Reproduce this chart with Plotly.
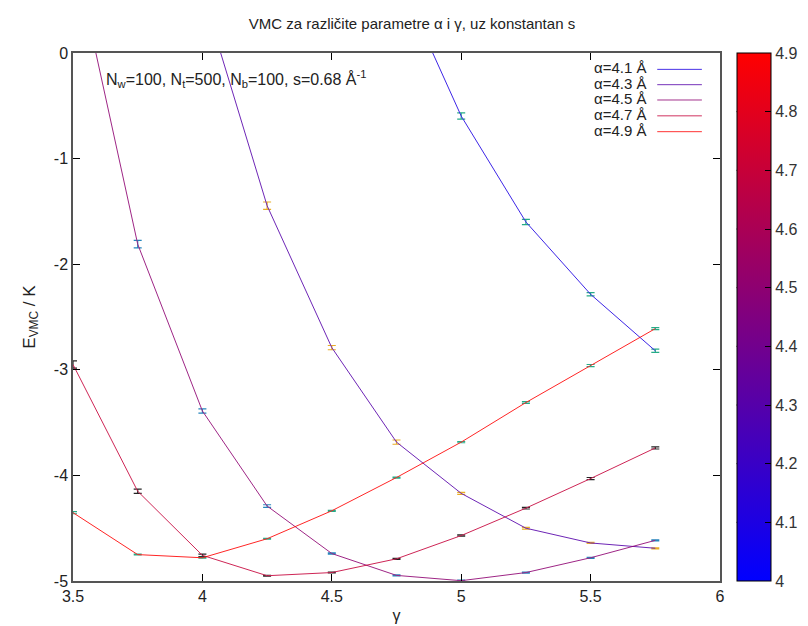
import plotly.graph_objects as go
from plotly.colors import sample_colorscale

# ---------------- data ----------------
gamma = [3.5, 3.75, 4.0, 4.25, 4.5, 4.75, 5.0, 5.25, 5.5, 5.75]
alphas = [4.1, 4.3, 4.5, 4.7, 4.9]

E_41 = [None, None, None, None, None, 0.76, -0.597, -1.60, -2.285, -2.82]
E_43 = [None, None, 0.57, -1.446, -2.79, -3.685, -4.17, -4.50, -4.64, -4.69]
E_45 = [0.99, -1.81, -3.39, -4.29, -4.74, -4.947, -4.997, -4.92, -4.78, -4.615]
E_47 = [-2.95, -4.15, -4.757, -4.95, -4.92, -4.79, -4.57, -4.31, -4.03, -3.74]
E_49 = [-4.353, -4.75, -4.78, -4.60, -4.335, -4.02, -3.685, -3.31, -2.96, -2.61]

err_41 = [0, 0, 0, 0, 0, 0.04, 0.03, 0.025, 0.015, 0.015]
err_43 = [0, 0, 0.04, 0.035, 0.02, 0.02, 0.01, 0.008, 0.005, 0.005]
err_45 = [0.04, 0.035, 0.02, 0.012, 0.006, 0.005, 0.005, 0.005, 0.005, 0.005]
err_47 = [0.035, 0.02, 0.012, 0.004, 0.004, 0.005, 0.006, 0.008, 0.01, 0.01]
err_49 = [0.01, 0.004, 0.004, 0.004, 0.005, 0.005, 0.006, 0.008, 0.01, 0.01]

energies = [E_41, E_43, E_45, E_47, E_49]
errors = [err_41, err_43, err_45, err_47, err_49]
errbar_colors = ["#009e73", "#e69f00", "#0072b2", "#000000", "#009e73"]

x_ticks = [3.5, 4.0, 4.5, 5.0, 5.5, 6.0]
x_ticktext = ["3.5", "4", "4.5", "5", "5.5", "6"]
y_ticks = [0, -1, -2, -3, -4, -5]
y_ticktext = ["0", "-1", "-2", "-3", "-4", "-5"]
cb_ticks = [4.0, 4.1, 4.2, 4.3, 4.4, 4.5, 4.6, 4.7, 4.8, 4.9]
cb_ticktext = ["4", "4.1", "4.2", "4.3", "4.4", "4.5", "4.6", "4.7", "4.8", "4.9"]
cmin, cmax = 4.0, 4.9

title_text = "VMC za različite parametre α i γ, uz konstantan s"
info_text = "N<sub>w</sub>=100, N<sub>t</sub>=500, N<sub>b</sub>=100, s=0.68 Å<sup>-1</sup>"

# ---------------- figure ----------------
colorscale = [[0, "rgb(0,0,255)"], [1, "rgb(255,0,0)"]]
FONT = "Liberation Sans, Arial, sans-serif"
NARROW = "Liberation Sans Narrow, Arial Narrow, Liberation Sans, sans-serif"

fig = go.Figure()
line_colors = []
for a, E, err, ec in zip(alphas, energies, errors, errbar_colors):
    col = sample_colorscale(colorscale, [(a - cmin) / (cmax - cmin)])[0]
    line_colors.append(col)
    fig.add_trace(go.Scatter(
        x=gamma, y=E, mode="lines",
        line=dict(color=col, width=1.0),
        opacity=0.85,
        error_y=dict(type="data", array=err, color=ec, thickness=1.2, width=4),
        showlegend=False, hoverinfo="skip",
    ))

# colorbar carrier
fig.add_trace(go.Scatter(
    x=[None], y=[None], mode="markers",
    marker=dict(color=[cmin], cmin=cmin, cmax=cmax, colorscale=colorscale,
                showscale=True,
                colorbar=dict(x=1.0256, xanchor="left", xpad=0, ypad=0,
                              y=0.5, yanchor="middle", len=1, lenmode="fraction",
                              thickness=34, outlinewidth=1, outlinecolor="#000",
                              tickvals=cb_ticks, ticktext=cb_ticktext,
                              ticks="inside", ticklen=6, tickcolor="#000",
                              tickfont=dict(family=FONT, size=16, color="#333"))),
    showlegend=False, hoverinfo="skip",
))

# custom gnuplot-style key (text, then sample line)
shapes = []
annotations = []
row_y = [0.972, 0.943, 0.914, 0.884, 0.854]
for a, col, ry in zip(alphas, line_colors, row_y):
    annotations.append(dict(text=f"α={a} Å", xref="paper", yref="paper",
                            x=0.889, y=ry, xanchor="right", yanchor="middle",
                            showarrow=False,
                            font=dict(family=FONT, size=15, color="#222")))
    shapes.append(dict(type="line", xref="paper", yref="paper",
                       x0=0.903, x1=0.972, y0=ry - 0.003, y1=ry - 0.003,
                       line=dict(color=col, width=1.0), opacity=0.8))

# left-edge ticks of the colour box
for v in cb_ticks[1:-1]:
    yy = (v - cmin) / (cmax - cmin)
    shapes.append(dict(type="line", xref="paper", yref="paper",
                       x0=1.0256, x1=1.0256 + 6 / 654, y0=yy, y1=yy,
                       line=dict(color="#000", width=1)))

annotations.append(dict(text=info_text, xref="paper", yref="paper",
                        x=0.048, y=0.95, xanchor="left", yanchor="middle",
                        showarrow=False,
                        font=dict(family=FONT, size=16, color="#222")))

fig.update_layout(
    width=808, height=626,
    margin=dict(l=65, r=89, t=45, b=45),
    paper_bgcolor="white", plot_bgcolor="white",
    title=dict(text=title_text, x=0.5, xref="container", xanchor="center",
               y=0.975, yref="container", yanchor="middle",
               font=dict(family=NARROW, size=15, color="#222")),
    xaxis=dict(range=[3.5, 6], tickvals=x_ticks, ticktext=x_ticktext,
               ticks="inside", ticklen=7, tickcolor="#000", mirror="allticks",
               showline=True, linecolor="#555", linewidth=1.5, showgrid=False,
               zeroline=False,
               tickfont=dict(family=NARROW, size=16, color="#222"),
               title=dict(text="γ", standoff=6,
                          font=dict(family=NARROW, size=16, color="#222"))),
    yaxis=dict(range=[-5, 0], tickvals=y_ticks, ticktext=y_ticktext,
               ticks="inside", ticklen=7, tickcolor="#000", mirror="allticks",
               showline=True, linecolor="#555", linewidth=1.5, showgrid=False,
               zeroline=False,
               tickfont=dict(family=NARROW, size=16, color="#222"),
               title=dict(text="E<sub>VMC</sub> / K", standoff=14,
                          font=dict(family=FONT, size=17, color="#222"))),
    shapes=shapes, annotations=annotations,
)

fig.write_html("out.html")
